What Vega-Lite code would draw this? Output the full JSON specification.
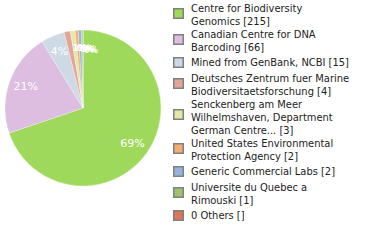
{
  "$schema": "https://vega.github.io/schema/vega-lite/v6.json",
  "padding": 0,
  "width": 166,
  "height": 216,
  "background": "white",
  "config": {"view": {"stroke": null}},
  "data": {"values": [
    {"rank": 1, "name": "Centre for Biodiversity\nGenomics [215]", "count": 215, "pct": "69%"},
    {"rank": 2, "name": "Canadian Centre for DNA\nBarcoding [66]", "count": 66, "pct": "21%"},
    {"rank": 3, "name": "Mined from GenBank, NCBI [15]", "count": 15, "pct": "4%"},
    {"rank": 4, "name": "Deutsches Zentrum fuer Marine\nBiodiversitaetsforschung [4]", "count": 4, "pct": "1%"},
    {"rank": 5, "name": "Senckenberg am Meer\nWilhelmshaven, Department\nGerman Centre... [3]", "count": 3, "pct": "0%"},
    {"rank": 6, "name": "United States Environmental\nProtection Agency [2]", "count": 2, "pct": "0%"},
    {"rank": 7, "name": "Generic Commercial Labs [2]", "count": 2, "pct": "0%"},
    {"rank": 8, "name": "Universite du Quebec a\nRimouski [1]", "count": 1, "pct": "0%"},
    {"rank": 9, "name": "0 Others []", "count": 0, "pct": ""}
  ]},
  "encoding": {
    "theta": {"field": "count", "type": "quantitative", "stack": true},
    "order": {"field": "rank", "type": "quantitative"},
    "color": {
      "field": "name", "type": "nominal", "sort": null,
      "scale": {
        "domain": [
          "Centre for Biodiversity\nGenomics [215]",
          "Canadian Centre for DNA\nBarcoding [66]",
          "Mined from GenBank, NCBI [15]",
          "Deutsches Zentrum fuer Marine\nBiodiversitaetsforschung [4]",
          "Senckenberg am Meer\nWilhelmshaven, Department\nGerman Centre... [3]",
          "United States Environmental\nProtection Agency [2]",
          "Generic Commercial Labs [2]",
          "Universite du Quebec a\nRimouski [1]",
          "0 Others []"
        ],
        "range": ["#9FD95C", "#DDBDE0", "#CDDAE5", "#E2A699", "#E3E8A3", "#F2AE72", "#94B4DE", "#9CC46F", "#DE7458"]
      },
      "legend": {
        "title": null,
        "orient": "right",
        "offset": 4,
        "padding": 3,
        "gridAlign": "none",
        "symbolType": "square",
        "symbolSize": 90,
        "symbolStrokeColor": "#808080",
        "symbolStrokeWidth": 1.5,
        "labelFont": "DejaVu Sans Condensed",
        "labelFontSize": 11,
        "labelColor": "#222222",
        "labelLimit": 300,
        "labelOffset": 7,
        "rowPadding": 1,
        "labelExpr": "split(datum.label, '\\n')",
        "labelLineHeight": 13,
        "encode": {
          "symbols": {
            "update": {
              "shape": {"signal": "length(split(datum.value, '\\n')) == 3 ? 'M-1,1.1L1,1.1L1,3.1L-1,3.1Z' : (length(split(datum.value, '\\n')) == 2 ? 'M-1,0.05L1,0.05L1,2.05L-1,2.05Z' : 'M-1,-1L1,-1L1,1L-1,1Z')"}
            }
          }
        }
      }
    }
  },
  "layer": [
    {"mark": {"type": "arc", "outerRadius": 78, "stroke": "white", "strokeWidth": 0.3}},
    {
      "transform": [{"filter": "datum.rank <= 3"}],
      "mark": {"type": "text", "radius": 61, "fill": "white", "font": "DejaVu Sans", "fontSize": 11},
      "encoding": {"text": {"field": "pct"}, "color": {"value": "white"}}
    },
    {
      "transform": [{"filter": "datum.rank >= 4 && datum.rank <= 8"}],
      "mark": {"type": "text", "radius": 60, "dx": -6, "fill": "white", "font": "DejaVu Sans Condensed", "fontSize": 9, "fontWeight": "bold"},
      "encoding": {"text": {"field": "pct"}, "color": {"value": "white"}}
    }
  ]
}
